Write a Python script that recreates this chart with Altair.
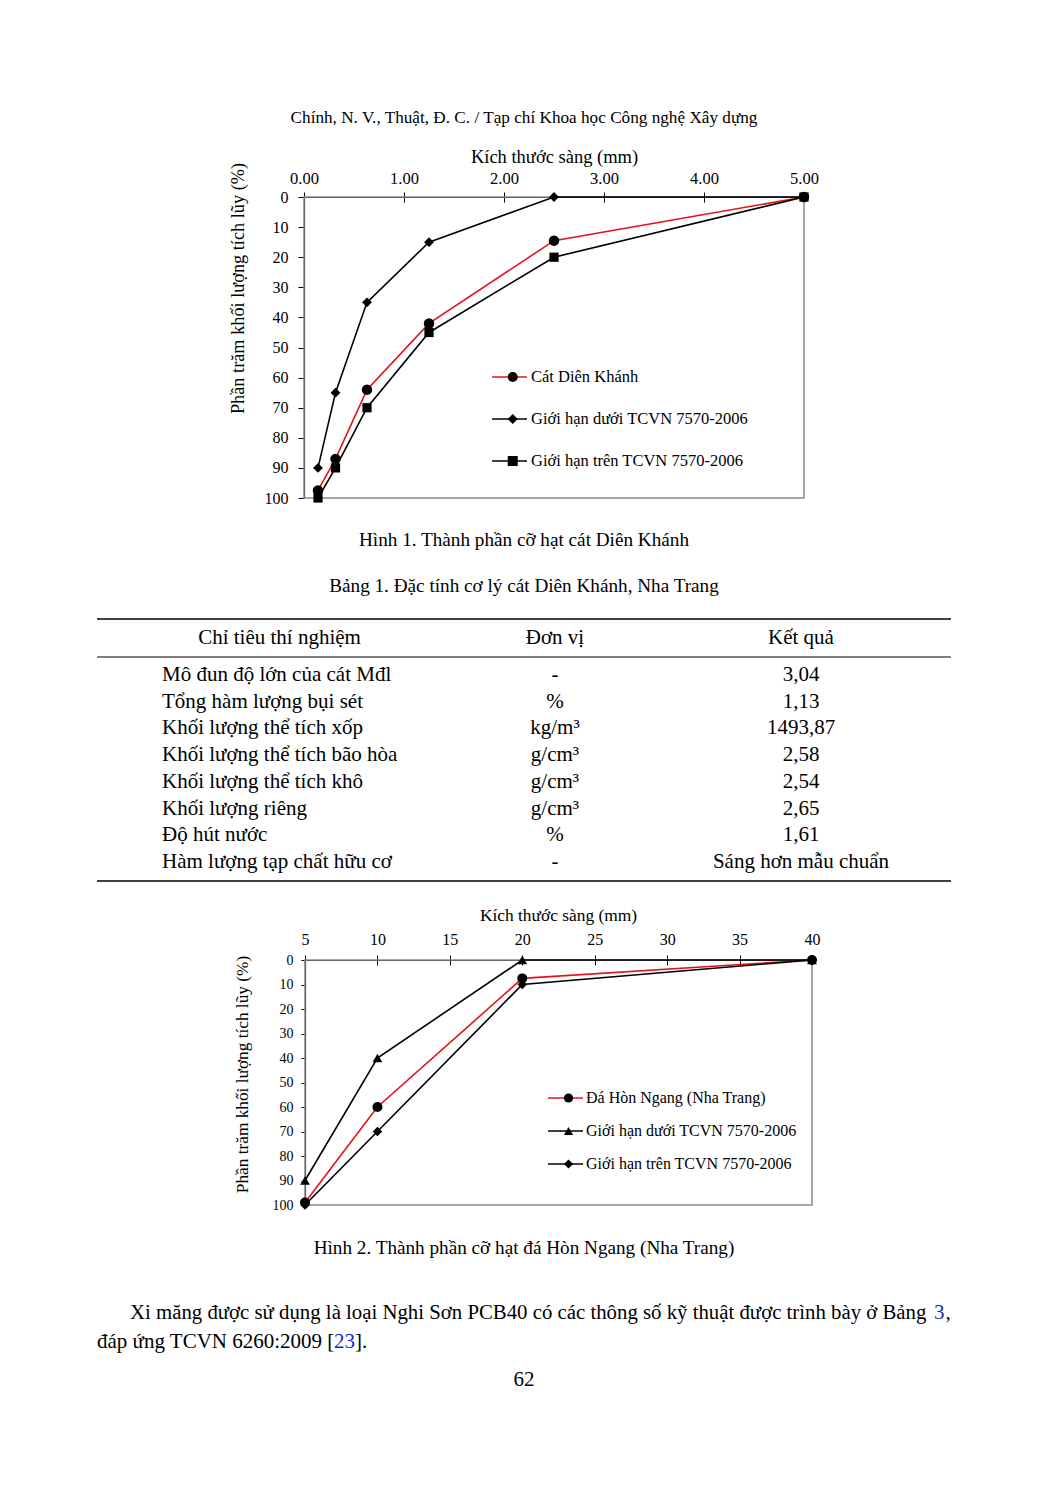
import altair as alt
import pandas as pd

FONT = "Liberation Serif"

# ---------------- page texts ----------------
HEADER = "Chính, N. V., Thuật, Đ. C. / Tạp chí Khoa học Công nghệ Xây dựng"
CAPTION1 = "Hình 1. Thành phần cỡ hạt cát Diên Khánh"
TABLE_CAPTION = "Bảng 1. Đặc tính cơ lý cát Diên Khánh, Nha Trang"
CAPTION2 = "Hình 2. Thành phần cỡ hạt đá Hòn Ngang (Nha Trang)"
PARA1_MAIN = "Xi măng được sử dụng là loại Nghi Sơn PCB40 có các thông số kỹ thuật được trình bày ở Bảng"
PARA1_LINK = "3"
PARA1_END = ","
PARA2_MAIN = "đáp ứng TCVN 6260:2009 ["
PARA2_LINK = "23"
PARA2_END = "]."
PAGE_NO = "62"

X_TITLE = "Kích thước sàng (mm)"
Y_TITLE = "Phần trăm khối lượng tích lũy (%)"
Y_DOMAIN = [0, 100]
Y_TICKS = [0, 10, 20, 30, 40, 50, 60, 70, 80, 90, 100]

# ---------------- figure 1 : sand ----------------
SAND_SERIES = ["Cát Diên Khánh", "Giới hạn dưới TCVN 7570-2006", "Giới hạn trên TCVN 7570-2006"]
SAND_SIZES = [0.14, 0.315, 0.63, 1.25, 2.5, 5.0]
SAND_ACTUAL = [97.5, 87, 64, 42, 14.5, 0]
SAND_LOWER = [90, 65, 35, 15, 0, 0]
SAND_UPPER = [100, 90, 70, 45, 20, 0]
SAND_X_DOMAIN = [0, 5]
SAND_X_TICKS = [0, 1, 2, 3, 4, 5]

# ---------------- figure 2 : crushed stone ----------------
STONE_SERIES = ["Đá Hòn Ngang (Nha Trang)", "Giới hạn dưới TCVN 7570-2006", "Giới hạn trên TCVN 7570-2006"]
STONE_SIZES = [5, 10, 20, 40]
STONE_ACTUAL = [99, 60, 7.5, 0]
STONE_LOWER = [90, 40, 0, 0]
STONE_UPPER = [100, 70, 10, 0]
STONE_X_DOMAIN = [5, 40]
STONE_X_TICKS = [5, 10, 15, 20, 25, 30, 35, 40]

# ---------------- table 1 ----------------
TABLE_HEADERS = ["Chỉ tiêu thí nghiệm", "Đơn vị", "Kết quả"]
CRITERIA = [
    "Mô đun độ lớn của cát Mđl",
    "Tổng hàm lượng bụi sét",
    "Khối lượng thể tích xốp",
    "Khối lượng thể tích bão hòa",
    "Khối lượng thể tích khô",
    "Khối lượng riêng",
    "Độ hút nước",
    "Hàm lượng tạp chất hữu cơ",
]
UNITS = ["-", "%", "kg/m³", "g/cm³", "g/cm³", "g/cm³", "%", "-"]
RESULTS = ["3,04", "1,13", "1493,87", "2,58", "2,54", "2,65", "1,61", "Sáng hơn mẫu chuẩn"]

W, H = 1031, 1460
RED = "#e3121b"


def long_df(sizes, series, values):
    rows = []
    for name, vals in zip(series, values):
        for s, v in zip(sizes, vals):
            rows.append({"size": s, "pct": v, "series": name, "marker": name})
    return pd.DataFrame(rows)


def gradation(df, series, shapes, sizes, xdom, xticks, xfmt, xrange, yrange, st):
    xscale = alt.Scale(domain=xdom, range=xrange, nice=False, zero=False)
    yscale = alt.Scale(domain=Y_DOMAIN, range=yrange, nice=False, zero=False)
    xaxis = alt.Axis(
        orient="top", offset=-yrange[0], values=xticks, format=xfmt, title=X_TITLE,
        titleX=st["xtx"], titleY=st["xty"], titleFont=FONT, titleFontSize=st["xtfs"],
        titleFontWeight="normal", titleColor="black", titleBaseline="middle", titleAlign="center",
        labelFont=FONT, labelFontSize=st["xlfs"], labelColor="black", labelFlush=False,
        labelOverlap=False, labelPadding=st["xlp"], tickSize=5, tickColor="black",
        domainColor="black", domainWidth=1.2, tickWidth=1, grid=False,
    )
    yaxis = alt.Axis(
        orient="left", offset=-xrange[0], values=Y_TICKS, format="d", title=Y_TITLE,
        titleX=st["ytx"], titleY=st["yty"], titleFont=FONT, titleFontSize=st["ytfs"],
        titleFontWeight="normal", titleColor="black", titleBaseline="middle", titleAlign="center",
        titleAngle=270, labelFont=FONT, labelFontSize=st["ylfs"], labelColor="black",
        labelFlush=False, labelOverlap=False, labelPadding=st["ylp"], tickSize=st["yts"],
        tickColor="black", domainColor="black", domainWidth=1.2, tickWidth=1, grid=False,
    )
    x = alt.X("size:Q", scale=xscale, axis=xaxis)
    y = alt.Y("pct:Q", scale=yscale, axis=yaxis)

    lines = alt.Chart(df).mark_line(strokeWidth=1.6).encode(
        x=x, y=y,
        color=alt.Color(
            "series:N",
            scale=alt.Scale(domain=series, range=[RED, "black", "black"]),
            legend=alt.Legend(
                orient="none", legendX=st["lx"], legendY=st["ly"], title=None,
                symbolType="stroke", symbolSize=1225, symbolStrokeWidth=1.6,
                labelFont=FONT, labelFontSize=st["lfs"], labelColor="black",
                labelOffset=st["lo"], labelLimit=500, clipHeight=18,
                rowPadding=st["rp"], padding=0,
            ),
        ),
        detail="series:N",
    )
    # marker-only legend, overlaid on the line legend (labels come from the line legend)
    points = alt.Chart(df).mark_point(filled=True, opacity=1, color="black").encode(
        x=x, y=y,
        shape=alt.Shape(
            "marker:N",
            sort=series,
            scale=alt.Scale(range=shapes),
            legend=alt.Legend(
                orient="none", legendX=st["sx"], legendY=st["ly"], title=None,
                symbolSize=st["ss"], symbolFillColor="black", symbolStrokeColor="black",
                symbolStrokeWidth=0, symbolOpacity=1,
                labelExpr="''", labelFontSize=st["lfs"],
                clipHeight=18, rowPadding=st["rp"], padding=0,
            ),
        ),
        size=alt.Size("marker:N", sort=series, scale=alt.Scale(range=sizes), legend=None),
    )
    chart = alt.layer(lines, points)

    # plot frame (grey) + lower half of the crossing x ticks
    frame_df = pd.DataFrame({"size": [xdom[0]], "size2": [xdom[1]], "pct": [Y_DOMAIN[0]], "pct2": [Y_DOMAIN[1]]})
    frame = alt.Chart(frame_df).mark_rect(fillOpacity=0, stroke="#8a8a8a", strokeWidth=1.5).encode(
        x=alt.X("size:Q", scale=alt.Scale(domain=xdom, range=xrange, nice=False, zero=False),
                axis=alt.Axis(orient="bottom", offset=yrange[0] - H, values=xticks, labels=False,
                              domain=False, title=None, tickSize=5, tickColor="black", tickWidth=1,
                              grid=False)),
        x2="size2:Q",
        y=alt.Y("pct:Q", scale=alt.Scale(domain=Y_DOMAIN, range=yrange, nice=False, zero=False), axis=None),
        y2="pct2:Q",
    )
    return frame, chart


sand_df = long_df(SAND_SIZES, SAND_SERIES, [SAND_ACTUAL, SAND_LOWER, SAND_UPPER])
stone_df = long_df(STONE_SIZES, STONE_SERIES, [STONE_ACTUAL, STONE_LOWER, STONE_UPPER])

frame1, chart1 = gradation(
    sand_df, SAND_SERIES, ["circle", "diamond", "square"], [110, 85, 100],
    SAND_X_DOMAIN, SAND_X_TICKS, ".2f", [296, 796], [189, 490],
    dict(xtx=546, xty=-41, xtfs=18.5, xlfs=16.5, xlp=6, ytx=-66, yty=280, ytfs=18.3,
         ylfs=16, ylp=10, yts=6, lx=483, ly=360, lfs=16.5, lo=3, rp=24, sx=496.5, ss=100),
)
frame2, chart2 = gradation(
    stone_df, STONE_SERIES, ["circle", "triangle-up", "diamond"], [100, 90, 64],
    STONE_X_DOMAIN, STONE_X_TICKS, "d", [297, 804], [952, 1197],
    dict(xtx=550, xty=-45, xtfs=17.4, xlfs=16, xlp=8, ytx=-63, yty=1066, ytfs=17.3,
         ylfs=14, ylp=8, yts=4, lx=539, ly=1081, lfs=16, lo=2, rp=15, sx=552.5, ss=85),
)


def text(t, x, y, size, align="center", color="black"):
    return alt.Chart(pd.DataFrame({"t": [t]})).mark_text(
        font=FONT, fontSize=size, align=align, baseline="middle", color=color
    ).encode(text="t:N", x=alt.value(x), y=alt.value(y))


def hrule(y, width):
    return alt.Chart(pd.DataFrame({"r": [0]})).mark_rule(color="black", strokeWidth=width).encode(
        x=alt.value(89), x2=alt.value(943), y=alt.value(y)
    )


table_df = pd.DataFrame({"criteria": CRITERIA, "unit": UNITS, "result": RESULTS})
row_y = alt.Y("criteria:N", scale=alt.Scale(type="point", domain=CRITERIA, range=[667, 854], padding=0), axis=None)
t_crit = alt.Chart(table_df).mark_text(font=FONT, fontSize=21, align="left", baseline="middle", color="black").encode(
    y=row_y, x=alt.value(154), text="criteria:N")
t_unit = alt.Chart(table_df).mark_text(font=FONT, fontSize=21, align="center", baseline="middle", color="black").encode(
    y=row_y, x=alt.value(547), text="unit:N")
t_res = alt.Chart(table_df).mark_text(font=FONT, fontSize=21, align="center", baseline="middle", color="black").encode(
    y=row_y, x=alt.value(793), text="result:N")
table = alt.layer(t_crit, t_unit, t_res)

LINK = "#1f1fcc"
page_texts = [
    text(HEADER, 516, 110, 17.2),
    text(CAPTION1, 516, 532, 19.2),
    text(TABLE_CAPTION, 516, 578, 19.2),
    text(CAPTION2, 516, 1240, 19.2),
    text(TABLE_HEADERS[0], 271.5, 630, 21),
    text(TABLE_HEADERS[1], 547, 630, 21),
    text(TABLE_HEADERS[2], 793, 630, 21),
    hrule(611, 1.6),
    hrule(649, 1),
    hrule(873, 1.6),
    text(PARA1_MAIN, 122, 1305, 20.8, align="left"),
    text(PARA1_LINK, 936.5, 1305, 21, align="right", color=LINK),
    text(PARA1_END, 937.5, 1305, 21, align="left"),
    text(PARA2_MAIN, 89, 1334, 21, align="left"),
    text(PARA2_LINK, 326, 1334, 21, align="left", color=LINK),
    text(PARA2_END, 347, 1334, 21, align="left"),
    text(PAGE_NO, 516, 1372, 21),
]

page = alt.layer(frame1, chart1, frame2, chart2, table, *page_texts).resolve_scale(
    x="independent", y="independent", color="independent", shape="independent", size="independent"
).resolve_axis(x="independent", y="independent").resolve_legend(
    color="independent", shape="independent", size="independent"
).properties(width=W, height=H, padding=0, background="white").configure_view(stroke="transparent")

page.save("out.html", embed_options={"renderer": "svg", "actions": False})
